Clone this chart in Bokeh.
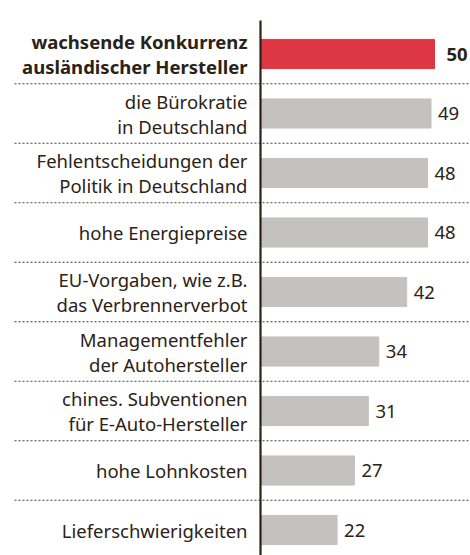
from bokeh.plotting import figure
from bokeh.models import Range1d, ColumnDataSource
from bokeh.core.properties import value
from bokeh.embed import file_html
from bokeh.resources import INLINE

categories = [
    "wachsende Konkurrenz\nausländischer Hersteller",
    "die Bürokratie\nin Deutschland",
    "Fehlentscheidungen der\nPolitik in Deutschland",
    "hohe Energiepreise",
    "EU-Vorgaben, wie z.B.\ndas Verbrennerverbot",
    "Managementfehler\nder Autohersteller",
    "chines. Subventionen\nfür E-Auto-Hersteller",
    "hohe Lohnkosten",
    "Lieferschwierigkeiten",
]
values = [50, 49, 48, 48, 42, 34, 31, 27, 22]
highlight = [True, False, False, False, False, False, False, False, False]

FONT = "Noto Sans"
TXT = "#2b2217"
RED = "#dc3743"
GREY = "#c3c2c0"
FS = "18.5px"

W, H = 470, 555
px_per_unit = 3.48
axis_px = 260
row_px = 59.5
first_row_px = 53.5

x_start = -axis_px / px_per_unit
x_end = (W - axis_px) / px_per_unit
n = len(categories)
y_top = -first_row_px / row_px
y_bot = (H - first_row_px) / row_px

p = figure(width=W, height=H, output_backend="svg", toolbar_location=None,
           x_range=Range1d(x_start, x_end), y_range=Range1d(y_bot, y_top),
           min_border=0, outline_line_color=None)
p.xaxis.visible = False
p.yaxis.visible = False
p.grid.visible = False
p.background_fill_color = "white"
p.border_fill_color = "white"

ys = list(range(n))
colors = [RED if h else GREY for h in highlight]
src = ColumnDataSource(dict(y=ys, v=values, c=colors))
p.hbar(y="y", left=0, right="v", height=0.49, color="c", source=src)

# separators
sep_y = [i + 0.5 for i in range(n - 1)]
p.segment(x0=[x_start + 14 / px_per_unit] * len(sep_y), x1=[x_end] * len(sep_y),
          y0=sep_y, y1=sep_y, line_color="#444444", line_width=1.2, line_dash="2 2")

# axis line
p.segment(x0=[0], x1=[0], y0=[y_top + 20 / row_px], y1=[y_bot],
          line_color=TXT, line_width=2.2)

# labels
hi = [i for i in range(n) if highlight[i]]
lo = [i for i in range(n) if not highlight[i]]
src_hi = ColumnDataSource(dict(y=[ys[i] for i in hi], v=[values[i] for i in hi],
                               lab=[categories[i] for i in hi], vt=[str(values[i]) for i in hi]))
src_lo = ColumnDataSource(dict(y=[ys[i] for i in lo], v=[values[i] for i in lo],
                               lab=[categories[i] for i in lo], vt=[str(values[i]) for i in lo]))

for s, style in ((src_hi, "bold"), (src_lo, "normal")):
    p.text(x=0, y="y", text="lab", source=s, x_offset=-13, text_align="right",
           text_baseline="middle", text_font=value(FONT), text_font_size=FS,
           text_font_style=style, text_color=TXT, text_line_height=1.0)

p.text(x="v", y="y", text="vt", source=src_hi, x_offset=12, text_align="left",
       text_baseline="middle", text_font=value(FONT), text_font_size=FS,
       text_font_style="bold", text_color=TXT)
p.text(x="v", y="y", text="vt", source=src_lo, x_offset=7, text_align="left",
       text_baseline="middle", text_font=value(FONT), text_font_size=FS,
       text_font_style="normal", text_color=TXT)

open("out.html", "w").write(file_html(p, INLINE))
